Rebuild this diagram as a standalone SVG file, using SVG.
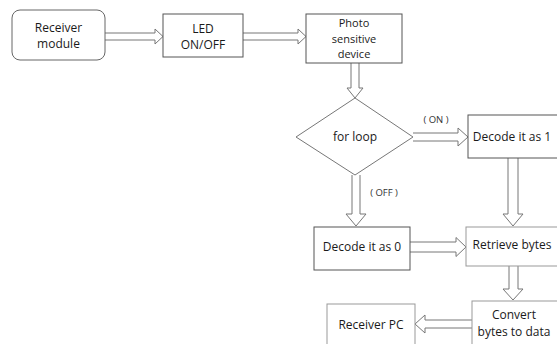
<svg xmlns="http://www.w3.org/2000/svg" width="557" height="344" viewBox="0 0 557 344">
<style>
.box{fill:#fff;stroke:#555;stroke-width:1}
.lbox{fill:#fff;stroke:#999;stroke-width:1}
.arr{fill:#fff;stroke:#777;stroke-width:1;stroke-linejoin:miter}
text{font-family:"Open Sans","Liberation Sans",sans-serif;font-size:12px;fill:#1a1a1a;text-anchor:middle}
.sm{font-size:11px}
.lab{font-size:9.5px;fill:#333}
</style>
<rect width="557" height="344" fill="#fff"/>
<g id="connectors">
<path class="arr" d="M105,33 L155,33 L155,29 L163,36.5 L155,44 L155,40 L105,40"/>
<path class="arr" d="M243,33 L298,33 L298,29 L306,36.5 L298,44 L298,40 L243,40"/>
<path class="arr" d="M351,63 L351,88 L347,88 L355,98 L363,88 L359,88 L359,63"/>
<path class="arr" d="M413,133 L458,133 L458,128 L468,137 L458,146 L458,141 L413,141"/>
<path class="arr" d="M352,175 L352,214 L346,214 L356,226 L366,214 L360,214 L360,175"/>
<path class="arr" d="M508,158 L508,214 L503,214 L513,226 L523,214 L518,214 L518,158"/>
<path class="arr" d="M410,242 L456,242 L456,237.5 L466,247 L456,256.5 L456,252 L410,252"/>
<path class="arr" d="M509,266 L509,289 L503,289 L513,300 L523,289 L518,289 L518,266"/>
<path class="arr" d="M472,320 L425,320 L425,315 L415,324 L425,333 L425,328 L472,328"/>
<text class="lab" x="436" y="123">(  ON  )</text>
<text class="lab" x="384" y="196">(  OFF  )</text>
</g>
<g id="receiver-module">
<rect class="box" x="12" y="10" width="93" height="50" rx="8" ry="8" style="stroke:#666"/>
<text x="58.5" y="31.5">Receiver</text>
<text x="58.5" y="48">module</text>
</g>
<g id="led">
<rect class="box" x="163" y="14" width="80" height="43"/>
<text x="203" y="32.5">LED</text>
<text x="203" y="49">ON/OFF</text>
</g>
<g id="photo">
<rect class="box" x="306" y="14" width="96" height="49"/>
<text class="sm" x="354" y="27">Photo</text>
<text class="sm" x="354" y="42.5">sensitive</text>
<text class="sm" x="354" y="58">device</text>
</g>
<g id="for-loop">
<polygon class="arr" points="355,98 413,137 355,175 296,137"/>
<text x="355" y="141">for loop</text>
</g>
<g id="decode1">
<rect class="box" x="468" y="115" width="100" height="43"/>
<text x="512" y="141">Decode it as 1</text>
</g>
<g id="decode0">
<rect class="box" x="314" y="227" width="96" height="43"/>
<text x="362" y="251">Decode it as 0</text>
</g>
<g id="retrieve">
<rect class="lbox" x="466" y="227" width="100" height="39"/>
<text x="512" y="249">Retrieve bytes</text>
</g>
<g id="convert">
<rect class="lbox" x="472" y="301" width="100" height="50"/>
<text x="514" y="319">Convert</text>
<text x="514" y="335.5">bytes to data</text>
</g>
<g id="receiver-pc">
<rect class="lbox" x="327" y="304" width="88" height="50"/>
<text x="371" y="329">Receiver PC</text>
</g>
</svg>
